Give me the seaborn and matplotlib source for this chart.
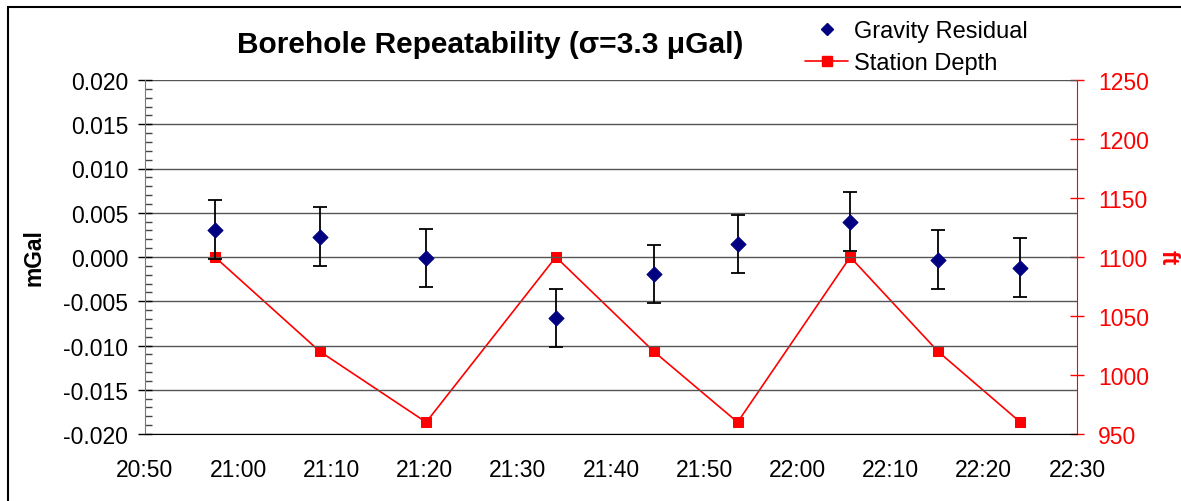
import matplotlib
matplotlib.use("Agg")
import matplotlib.pyplot as plt
import matplotlib.dates as mdates
import matplotlib.ticker as mticker
from matplotlib.lines import Line2D
from matplotlib.patches import Rectangle
import seaborn as sns
import pandas as pd
import numpy as np

# ---- data ----
times = ["20:57:30", "21:08:45", "21:20:10", "21:34:05", "21:44:35",
         "21:53:35", "22:05:40", "22:15:05", "22:23:55"]
gravity_residual = [0.0031, 0.0023, -0.0001, -0.0069, -0.0019,
                    0.0015, 0.0040, -0.0003, -0.0012]
residual_error = [0.0033] * 9
station_depth = [1100, 1020, 960, 1100, 1020, 960, 1100, 1020, 960]

sns.set_style("white")
plt.rcParams['font.family'] = ['Liberation Sans', 'DejaVu Sans']
plt.rcParams['text.color'] = 'black'
plt.rcParams['axes.labelcolor'] = 'black'
plt.rcParams['xtick.color'] = 'black'
plt.rcParams['ytick.color'] = 'black'

t = pd.to_datetime(["2000-01-01 " + s for s in times])
df = pd.DataFrame({"time": t, "resid": gravity_residual,
                   "err": residual_error, "depth": station_depth})

W, H = 1181, 502
fig = plt.figure(figsize=(W / 100, H / 100), dpi=100)
L, R, B, T = 145, 1077, 435, 81
ax = fig.add_axes([L / W, 1 - B / H, (R - L) / W, (B - T) / H])

TICK_FS = 16.5

# gridlines
ax.set_ylim(-0.020, 0.020)
ax.yaxis.set_major_locator(mticker.MultipleLocator(0.005))
ax.yaxis.set_minor_locator(mticker.MultipleLocator(0.001))
ax.yaxis.set_major_formatter(mticker.FormatStrFormatter('%.3f'))
ax.grid(axis='y', which='major', color='#555555', linewidth=1.0)
ax.set_axisbelow(True)

# right axis: depth
ax2 = ax.twinx()
sns.lineplot(data=df, x="time", y="depth", ax=ax2, color='red', linewidth=1.2,
             marker='s', markersize=7.5, markeredgecolor='red', zorder=2,
             label="Station Depth", legend=False)
ax2.set_ylim(950, 1250)
ax2.yaxis.set_major_locator(mticker.MultipleLocator(50))

# gravity residual on top
ax.set_zorder(ax2.get_zorder() + 1)
ax.patch.set_visible(False)
ax.errorbar(df["time"], df["resid"], yerr=df["err"], fmt='none', ecolor='black',
            elinewidth=1.3, capsize=5, capthick=1.3, zorder=3)
sns.scatterplot(data=df, x="time", y="resid", ax=ax, marker='D', s=60,
                color='#000080', edgecolor='#000080', zorder=4, legend=False)

x0 = pd.Timestamp("2000-01-01 20:50")
x1 = pd.Timestamp("2000-01-01 22:30")
ax.set_xlim(x0, x1)
ax.xaxis.set_major_locator(mdates.MinuteLocator(byminute=range(0, 60, 10)))
ax.xaxis.set_major_formatter(mdates.DateFormatter('%H:%M'))

# spines / ticks
ax.spines['top'].set_visible(False)
ax2.spines['top'].set_visible(False)
ax.spines['left'].set_color('#777777')
ax.spines['bottom'].set_color('black')
ax.spines['right'].set_visible(False)
ax2.spines['left'].set_visible(False)
ax2.spines['bottom'].set_visible(False)
ax2.spines['right'].set_color('red')

ax.tick_params(axis='y', which='major', direction='inout', length=10, width=1,
               color='black', labelsize=TICK_FS, pad=7)
ax.tick_params(axis='y', which='minor', direction='in', length=5, width=1,
               color='#444444', left=True)
ax.tick_params(axis='x', which='major', direction='out', length=6, width=1,
               labelsize=TICK_FS, pad=11)
ax2.tick_params(axis='y', which='major', direction='inout', length=10, width=1,
                color='red', labelcolor='red', labelsize=TICK_FS, pad=10)

ax.set_xlabel("")
ax.set_ylabel("mGal", fontsize=16.5, fontweight='bold', labelpad=13)
ax2.set_xlabel("")
ax2.set_ylabel("ft", fontsize=16.5, fontweight='bold', color='red', rotation=270,
               va='center', ha='center')
ax2.yaxis.set_label_coords((1168 - L) / (R - L), 0.5)

fig.text(490 / W, 1 - 45 / H, "Borehole Repeatability (σ=3.3 μGal)",
         ha='center', va='center', fontsize=21.5, fontweight='bold')

handles = [Line2D([], [], linestyle='none', marker='D', color='#000080',
                  markersize=6.5),
           Line2D([], [], color='red', linewidth=1.2, marker='s',
                  markersize=7.5)]
fig.legend(handles, ["Gravity Residual", "Station Depth"], loc='upper left',
           bbox_to_anchor=(803 / W, 1 - 19 / H), frameon=False, fontsize=17,
           handlelength=1.8, handletextpad=0.25, labelspacing=0.4,
           borderaxespad=0, borderpad=0.1)

fig.patches.append(Rectangle((8 / W, -0.1), 1.2, 1 - 8 / H + 0.1,
                             transform=fig.transFigure, fill=False,
                             edgecolor='black', linewidth=1.5))

fig.savefig("out.png", dpi=100)
